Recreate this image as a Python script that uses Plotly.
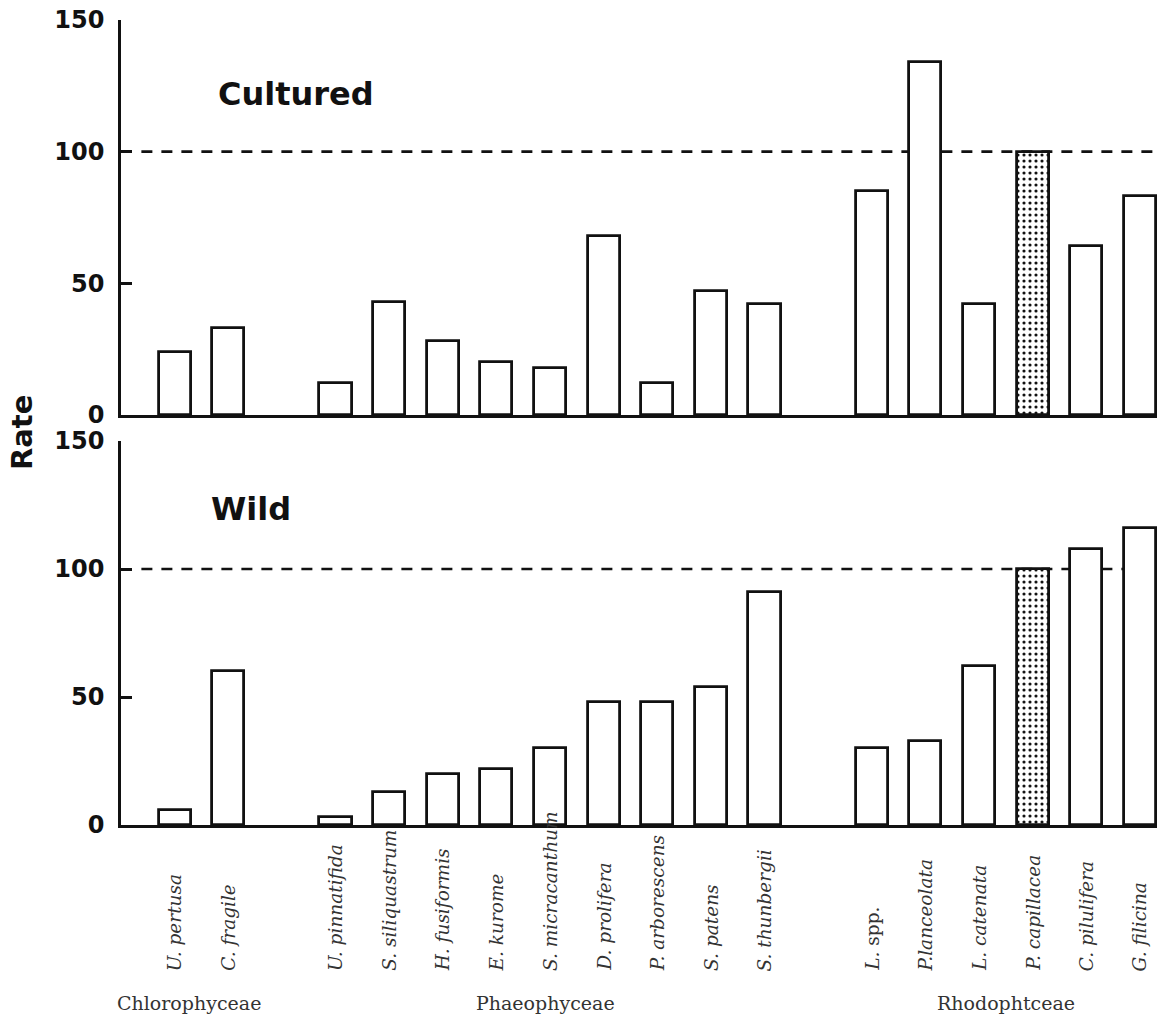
import plotly.graph_objects as go

# Algal classes and the species measured in each
groups = ["Chlorophyceae", "Phaeophyceae", "Rhodophtceae"]
species = [
    "U. pertusa", "C. fragile",
    "U. pinnatifida", "S. siliquastrum", "H. fusiformis", "E. kurome",
    "S. micracanthum", "D. prolifera", "P. arborescens", "S. patens", "S. thunbergii",
    "L. spp.", "P.lanceolata", "L. catenata", "P. capillacea", "C. pilulifera", "G. filicina",
]
species_group = [0, 0, 1, 1, 1, 1, 1, 1, 1, 1, 1, 2, 2, 2, 2, 2, 2]

# Rates (reference species = 100)
cultured = [24, 33, 12, 43, 28, 20, 18, 68, 12, 47, 42, 85, 134, 42, 100, 64, 83]
wild = [6, 60, 3, 13, 20, 22, 30, 48, 48, 54, 91, 30, 33, 62, 100, 108, 116]

reference_species = "P. capillacea"
reference_level = 100
y_ticks = [0, 50, 100, 150]

# x position of each bar: one empty slot between classes
positions = []
pos = 0
for i, g in enumerate(species_group):
    if i > 0 and g != species_group[i - 1]:
        pos += 1
    positions.append(pos)
    pos += 1


def tick_html(name):
    genus, rest = name.split(".", 1)
    if rest.strip() == "spp.":
        return f"<i>{genus}.</i>{rest}"
    return f"<i>{name}</i>"


shapes_pattern = ["." if s == reference_species else "" for s in species]

BLACK = "#111111"
x_range = [-1, 18.32]
# small horizontal nudge (px) for each class caption
group_label_shift = [-12, -4, 0]

fig = go.Figure()

for data, xa, ya in [(cultured, "x", "y"), (wild, "x2", "y2")]:
    fig.add_trace(go.Bar(
        x=positions, y=data, xaxis=xa, yaxis=ya, width=0.6,
        marker=dict(
            color="white",
            line=dict(color=BLACK, width=2.8),
            pattern=dict(shape=shapes_pattern, fgcolor=BLACK, bgcolor="white",
                         size=6, solidity=0.22, fillmode="replace"),
        ),
        showlegend=False, hoverinfo="skip",
    ))

# dashed reference line at 100 in both panels
for xr, yr in [("x", "y"), ("x2", "y2")]:
    fig.add_shape(type="line", xref=xr, yref=yr, x0=-0.62, x1=x_range[1],
                  y0=reference_level, y1=reference_level, layer="below",
                  line=dict(color=BLACK, width=2.6, dash="11px,9px"))

yaxis_style = dict(
    range=[0, 150], tickvals=y_ticks, ticks="inside", ticklen=11, tickwidth=2.6,
    tickcolor=BLACK, showline=True, linecolor=BLACK, linewidth=2.6,
    showgrid=False, zeroline=False, ticklabelstandoff=9,
    tickfont=dict(family="DejaVu Sans", size=24, weight="bold", color=BLACK),
)
xaxis_style = dict(
    range=x_range, showticklabels=False, ticks="", showline=True,
    linecolor=BLACK, linewidth=2.6, showgrid=False, zeroline=False,
)

fig.update_layout(
    width=1157, height=1020,
    margin=dict(l=121, r=0, t=20, b=195),
    paper_bgcolor="white", plot_bgcolor="white",
    bargap=0,
    xaxis=dict(**xaxis_style, anchor="y"),
    yaxis=dict(**yaxis_style, domain=[0.5093, 1], anchor="x"),
    xaxis2=dict(**xaxis_style, anchor="y2"),
    yaxis2=dict(**yaxis_style, domain=[0, 0.477], anchor="x2"),
)

title_font = dict(family="DejaVu Sans", size=32, weight="bold", color=BLACK)
annotations = [
    dict(text="Cultured", xref="paper", yref="paper", x=0.169, y=0.908,
         xanchor="center", yanchor="middle", showarrow=False, font=title_font),
    dict(text="Wild", xref="paper", yref="paper", x=0.1255, y=0.393,
         xanchor="center", yanchor="middle", showarrow=False, font=title_font),
    dict(text="Rate", xref="paper", yref="paper", x=-0.0956, y=0.488, textangle=-90,
         xanchor="center", yanchor="middle", showarrow=False,
         font=dict(family="DejaVu Sans", size=29, weight="bold", color=BLACK)),
]

# species names under the lower panel
for p, name in zip(positions, species):
    annotations.append(dict(
        text=tick_html(name), xref="x2", yref="paper", x=p, y=-0.1839,
        xanchor="center", yanchor="bottom", textangle=-90, showarrow=False,
        font=dict(family="DejaVu Serif", size=18.5, color="#333333"),
    ))

# class names centred under their species
for gi, g in enumerate(groups):
    ps = [p for p, sg in zip(positions, species_group) if sg == gi]
    annotations.append(dict(
        text=g, xref="x2", yref="paper", x=(min(ps) + max(ps)) / 2, y=-0.221,
        xanchor="center", yanchor="middle", showarrow=False,
        xshift=group_label_shift[gi],
        font=dict(family="DejaVu Serif", size=19, color="#333333"),
    ))

fig.update_layout(annotations=annotations)

fig.write_html("out.html")
